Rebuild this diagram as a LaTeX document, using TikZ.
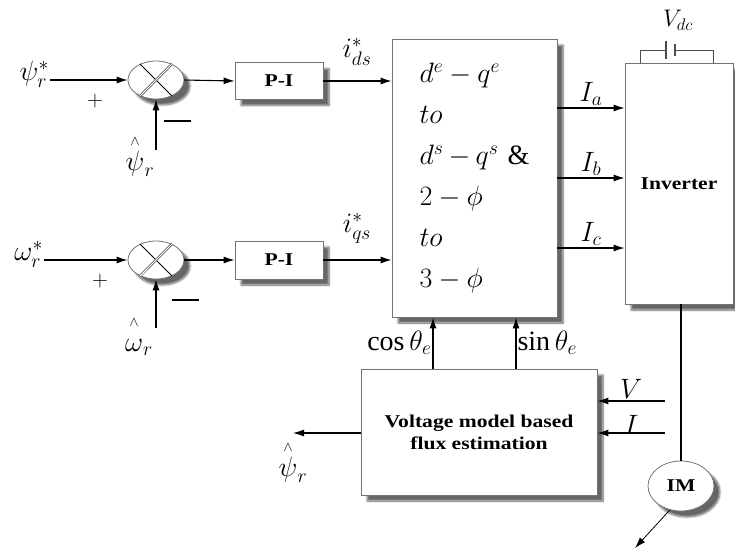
\RequirePackage{fix-cm}
\documentclass[tikz,border=0pt]{standalone}
\usepackage{fontspec}
\setmainfont{Liberation Serif}
\usepackage{graphicx}
\usepackage{amsmath}
\usetikzlibrary{arrows.meta,shapes.geometric,shadows.blur}
\newcommand{\widen}[1]{\scalebox{1.2}[1]{#1}}
\newcommand{\est}[1]{\overset{\scriptscriptstyle\wedge}{\vphantom{b}#1}}
\tikzset{sig/.style={-{Latex[length=11pt,width=7pt]},line width=1.1pt},
 wire/.style={line width=1.1pt},
 blk/.style={draw=black!55,line width=0.8pt,fill=white,
  blur shadow={shadow xshift=6pt,shadow yshift=-6pt,shadow blur steps=8,shadow opacity=60}},
 summer/.style={blk,ellipse,minimum width=56pt,minimum height=38pt,inner sep=0pt},
 lbl/.style={font=\fontsize{28}{32}\selectfont,inner sep=1pt},
 boldtxt/.style={font=\fontsize{18}{22}\selectfont\bfseries},
 sign/.style={font=\fontsize{22}{22}\selectfont}}

\begin{document}
\begin{tikzpicture}[x=1pt,y=-1pt]
\useasboundingbox (0,0) rectangle (735,552);
% blocks
\node[summer] (s1) at (156,80) {};
\node[summer] (s2) at (156,260) {};
\node[blk,boldtxt,minimum width=88pt,minimum height=37pt] (pi1) at (279,81) {\widen{P-I}};
\node[blk,boldtxt,minimum width=88pt,minimum height=38pt] (pi2) at (279,260) {\widen{P-I}};
\node[blk,minimum width=165pt,minimum height=278pt,text width=110pt,align=left,
 font=\fontsize{28}{41}\selectfont] (conv) at (474.5,178)
 {$d^e-q^e$\\ $to$\\ $d^s-q^s$ \&\\ $2-\phi$\\ $to$\\ $3-\phi$};
\node[blk,boldtxt,minimum width=108pt,minimum height=241pt] (inv) at (679,183.5) {\widen{Inverter}};
\node[blk,boldtxt,minimum width=236pt,minimum height=126pt,align=center] (flux) at (479,432)
 {\widen{Voltage model based}\\ \widen{flux estimation}};
\node[blk,boldtxt,ellipse,minimum width=66pt,minimum height=50pt,inner sep=0pt] (im) at (681,486) {\widen{IM}};
% summer crosses
\foreach \s in {s1,s2} {
 \draw[line width=0.8pt] (\s.135)--(\s.-45);
 \draw[double,double distance=1.4pt,line width=0.5pt] (\s.-135)--(\s.45);
}
% flux loop
\node[lbl,anchor=east] (psiref) at (50,74) {$\psi_r^*$};
\draw[sig] (s1.west -| psiref.east) -- (s1.west);
\coordinate (fb1) at (156,150);
\draw[sig] (fb1) -- (s1.south);
\node[lbl] (psihat1) at (140,156) {$\est{\psi}_r$};
\node[sign] (plus1) at (95,101) {$+$};
\node (minus1) at (177,121) {\rule{27pt}{1.8pt}};
\draw[sig] (s1.east) -- (pi1.west);
\draw[sig] (pi1.east) -- (pi1.east -| conv.west);
\node[lbl] (ids) at (357,52) {$i_{ds}^*$};
% speed loop
\node[lbl,anchor=east] (omref) at (44,254) {$\omega_r^*$};
\draw[sig] (s2.west -| omref.east) -- (s2.west);
\coordinate (fb2) at (156,328);
\draw[sig] (fb2) -- (s2.south);
\node[lbl] (omhat) at (139,336) {$\est{\omega}_r$};
\node[sign] (plus2) at (100,281) {$+$};
\node (minus2) at (185,300) {\rule{27pt}{1.8pt}};
\draw[sig] (s2.east) -- (pi2.west);
\draw[sig] (pi2.east) -- (pi2.east -| conv.west);
\node[lbl] (iqs) at (357,228) {$i_{qs}^*$};
% phase currents
\foreach \dy/\ph in {70/a,0/b,-70/c}
 \draw[sig] ([yshift=\dy pt]conv.east) -- ([yshift=\dy pt]conv.east -| inv.west)
  node[lbl,midway,above=1pt] (I\ph) {$I_\ph$};
% dc link
\coordinate (dcl) at (640,63);
\coordinate (dcr) at (713,63);
\draw[line width=0.9pt,black!70] (dcl) |- (666,50);
\draw[line width=0.9pt,black!70] (675,50) -| (dcr);
\draw[line width=1.2pt,black!70] (666,41) -- (666,59);
\draw[line width=1.2pt,black!70] (675,44) -- (675,56);
\node[font=\fontsize{24}{28}\selectfont] (vdc) at (678,20) {$V_{dc}$};
% angle feedback
\draw[sig] ([xshift=-46pt]flux.north) -- ([xshift=-46pt]flux.north |- conv.south)
 node[lbl,pos=.5,left] (cosl) {$\cos\theta_e$};
\draw[sig] ([xshift=37pt]flux.north) -- ([xshift=37pt]flux.north |- conv.south)
 node[lbl,pos=.5,right] (sinl) {$\sin\theta_e$};
% measured quantities
\coordinate (vin) at (665,401);
\coordinate (iin) at (665,433);
\draw[sig] (vin) -- (vin -| flux.east) node[lbl,midway,above=1pt] (vl) {$V$};
\draw[sig] (iin) -- (iin -| flux.east) node[lbl,midway,above=-3pt] (il) {$I$};
\coordinate (psiout) at (293,433);
\draw[sig] (flux.west |- psiout) -- (psiout);
\node[lbl] (psihat2) at (293,462) {$\est{\psi}_r$};
% motor
\draw[wire] (im.north |- inv.south) -- (im.north);
\coordinate (shaft) at (635,548);
\draw[sig,line width=0.8pt] (im.-115) -- (shaft);
\end{tikzpicture}
\end{document}
